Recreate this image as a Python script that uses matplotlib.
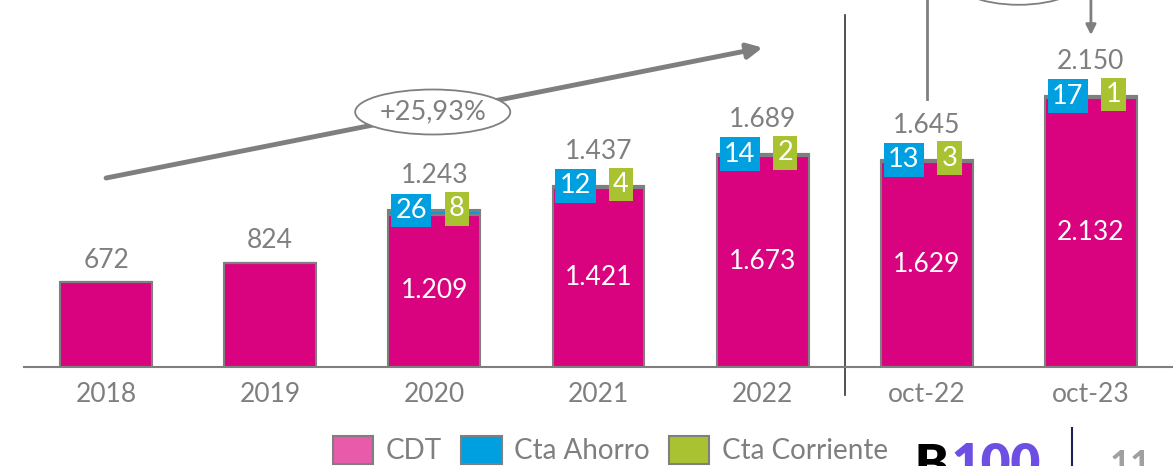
import numpy as np
import matplotlib.pyplot as plt
from matplotlib.patches import Patch, Ellipse

plt.rcParams['font.family'] = ['Lato', 'DejaVu Sans']

periodos = ['2018', '2019', '2020', '2021', '2022', 'oct-22', 'oct-23']
cdt = [672, 824, 1209, 1421, 1673, 1629, 2132]
ahorro = [0, 0, 26, 12, 14, 13, 17]
corriente = [0, 0, 8, 4, 2, 3, 1]

rosa = '#DA037F'
azul = '#009FE0'
verde = '#A9C232'
gris = '#7F7F7F'
peso = 'normal'

def fmt(v):
    return f'{v:,}'.replace(',', '.')

fig = plt.figure(figsize=(11.73, 4.66), dpi=100)
ax = fig.add_axes([24/1173, 99/466, 1 - 24/1173, 367/466])

x = np.arange(len(periodos))
cdt = np.array(cdt)
ahorro = np.array(ahorro)
corriente = np.array(corriente)
total = cdt + ahorro + corriente
w = 0.56

ax.bar(x, cdt, w, color=rosa, edgecolor=gris, linewidth=1.5)
ax.bar(x, ahorro, w, bottom=cdt, color=azul, edgecolor=gris, linewidth=1.5)
ax.bar(x, corriente, w, bottom=cdt + ahorro, color=verde, edgecolor=gris, linewidth=1.5)

ax.set_xlim(-0.5, 6.5)
ax.set_ylim(0, 2913)

for i in range(len(x)):
    if ahorro[i] > 0:
        ax.text(x[i], cdt[i] / 2, fmt(cdt[i]), ha='center', va='center',
                color='white', fontsize=19, fontweight=peso)
        ax.text(x[i] - 0.14, total[i], str(ahorro[i]), ha='center', va='center',
                color='white', fontsize=19.5, fontweight=peso,
                bbox=dict(boxstyle='square,pad=0.16', fc=azul, ec='none'))
        ax.text(x[i] + 0.137, total[i] + 12, str(corriente[i]), ha='center', va='center',
                color='white', fontsize=19.5, fontweight=peso,
                bbox=dict(boxstyle='square,pad=0.16', fc=verde, ec='none'))
        off = 25
    else:
        off = 16
    ax.annotate(fmt(total[i]), (x[i], total[i]), xytext=(0, off), textcoords='offset points',
                ha='center', va='center', color=gris, fontsize=19, fontweight=peso)

# flecha de crecimiento
ax.annotate('', xy=(4.0, 2535), xytext=(0.0, 1500),
            arrowprops=dict(arrowstyle='-|>,head_length=0.9,head_width=0.45',
                            color=gris, lw=3.5, shrinkA=0, shrinkB=0))
ax.add_patch(Ellipse((1.99, 2024), 0.945, 357, fc='white', ec=gris, lw=1.3, zorder=5))
ax.text(1.99, 2024, '+25,93%', ha='center', va='center', color=gris,
        fontsize=19.5, fontweight=peso, zorder=6)

# separador y llamada superior
ax.plot([4.5, 4.5], [2795, -222], color='#333333', lw=1.2, clip_on=False)
ax.plot([5.0, 5.0], [3000, 2127], color=gris, lw=2, clip_on=False)
ax.annotate('', xy=(6.0, 2635), xytext=(6.0, 3000),
            arrowprops=dict(arrowstyle='-|>,head_length=0.6,head_width=0.3',
                            color=gris, lw=2, shrinkA=0, shrinkB=0),
            annotation_clip=False)
ax.add_patch(Ellipse((5.56, 3115), 0.85, 480, fc='white', ec=gris, lw=1.3, clip_on=False))

for s in ['top', 'right', 'left']:
    ax.spines[s].set_visible(False)
ax.spines['bottom'].set_color(gris)
ax.spines['bottom'].set_linewidth(1.5)
ax.set_yticks([])
ax.set_xticks(x)
ax.set_xticklabels(periodos, color=gris, fontsize=19, fontweight=peso)
ax.tick_params(axis='x', length=0, pad=11)

handles = [Patch(fc='#E85BAA', ec=gris, lw=1.5, label='CDT'),
           Patch(fc=azul, ec=gris, lw=1.5, label='Cta Ahorro'),
           Patch(fc=verde, ec=gris, lw=1.5, label='Cta Corriente')]
leg = fig.legend(handles=handles, loc='center left', bbox_to_anchor=(333/1173, 16/466),
                 ncol=3, frameon=False, fontsize=20, handlelength=1.45, handleheight=1.2,
                 handletextpad=0.45, columnspacing=0.7, borderpad=0, borderaxespad=0)
for t in leg.get_texts():
    t.set_color(gris)
    t.set_fontweight(peso)

fig.text(915/1173, -14/466, 'B', color='black', fontsize=36, fontweight='heavy',
         ha='left', va='baseline')
fig.text(951/1173, -14/466, '100', color='#6E4FE3', fontsize=37, fontweight='heavy',
         ha='left', va='baseline')
fig.add_artist(plt.Line2D([1072/1173, 1072/1173], [0, 38/466], color='#1F1F5A', lw=1.5))
fig.text(1110/1173, -10/466, '11', color='#A0A0A0', fontsize=26, fontweight='bold',
         ha='left', va='baseline')

fig.savefig('out.png', dpi=100)
